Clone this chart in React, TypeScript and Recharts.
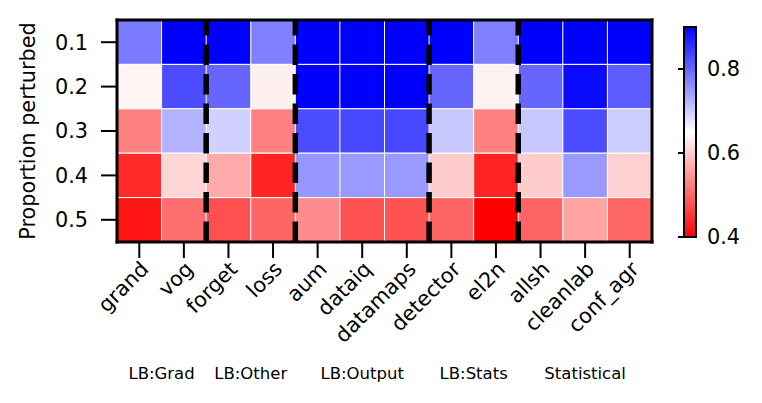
import { Bar, BarChart, Cell, ReferenceArea, ReferenceLine, XAxis, YAxis } from 'recharts';

const METHODS = ['grand', 'vog', 'forget', 'loss', 'aum', 'dataiq', 'datamaps', 'detector', 'el2n', 'allsh', 'cleanlab', 'conf_agr'];
const PROPORTIONS = ['0.1', '0.2', '0.3', '0.4', '0.5'];

// one array per proportion row, values per method
const P01 = [0.78, 0.9, 0.9, 0.775, 0.9, 0.9, 0.9, 0.9, 0.775, 0.9, 0.9, 0.9];
const P02 = [0.64, 0.826, 0.8, 0.635, 0.9, 0.9, 0.9, 0.8, 0.637, 0.8, 0.89, 0.81];
const P03 = [0.525, 0.725, 0.695, 0.525, 0.826, 0.83, 0.83, 0.705, 0.525, 0.705, 0.826, 0.7];
const P04 = [0.44, 0.61, 0.567, 0.435, 0.753, 0.75, 0.75, 0.6, 0.435, 0.6, 0.75, 0.605];
const P05 = [0.42, 0.508, 0.478, 0.498, 0.537, 0.48, 0.48, 0.498, 0.4, 0.498, 0.56, 0.5];
const ROWS = [P01, P02, P03, P04, P05];

const GROUPS = ['LB:Grad', 'LB:Other', 'LB:Output', 'LB:Stats', 'Statistical'];
const GROUP_SIZES = [2, 2, 3, 2, 3];

const CBAR_TICKS = [0.4, 0.6, 0.8];
const VMIN = 0.4;
const VMAX = 0.9;

const FONT = 'DejaVu Sans';
const FS = 20.8;

// group edges in column units, and label spots at their middles
const edges = GROUP_SIZES.reduce<number[]>((acc, n) => [...acc, acc[acc.length - 1] + n], [0]);
const breaks = edges.slice(1, -1);
const groupMid = GROUP_SIZES.map((_, i) => (edges[i] + edges[i + 1]) / 2);

const NX = METHODS.length;
const NY = PROPORTIONS.length;

// matplotlib bwr, reversed (low = red, high = blue)
function bwr(v: number): string {
  const t = Math.min(1, Math.max(0, (v - VMIN) / (VMAX - VMIN)));
  if (t >= 0.5) {
    const s = Math.round(255 * 2 * (1 - t));
    return `rgb(${s},${s},255)`;
  }
  const s = Math.round(255 * 2 * t);
  return `rgb(255,${s},${s})`;
}

const table = METHODS.map((name, i) => ({ name, pos: i + 0.5 }));

// the four spines of the heatmap, in data units
const frame = [
  [{ x: 0, y: NY }, { x: 0, y: 0 }],
  [{ x: NX, y: NY }, { x: NX, y: 0 }],
  [{ x: 0, y: 0 }, { x: NX, y: 0 }],
  [{ x: 0, y: NY }, { x: NX, y: NY }],
];

export default function App() {
  return (
    <div style={{ position: 'absolute', left: 0, top: 0, width: 762, height: 403, background: '#fff', fontFamily: FONT }}>
      <BarChart
        width={762}
        height={403}
        data={table}
        margin={{ top: 20, right: 110, left: 0, bottom: 16 }}
        barCategoryGap={0}
        barGap={0}
      >
        <XAxis
          dataKey="name"
          type="category"
          height={115}
          interval={0}
          angle={-45}
          textAnchor="end"
          tickSize={16}
          tickMargin={2}
          axisLine={false}
          tickLine={{ stroke: '#000', strokeWidth: 2 }}
          tick={{ fill: '#000', fontSize: FS, fontFamily: FONT }}
        />
        <XAxis
          xAxisId="g"
          dataKey="pos"
          type="number"
          domain={[0, NX]}
          allowDataOverflow
          ticks={groupMid}
          tickFormatter={(v: number) => GROUPS[groupMid.indexOf(v)] ?? ''}
          height={30}
          tickSize={0}
          tickMargin={10}
          axisLine={false}
          tickLine={false}
          tick={{ fill: '#000', fontSize: 16.5, fontFamily: FONT }}
        />
        <YAxis
          type="number"
          domain={[0, NY]}
          reversed
          allowDataOverflow
          ticks={[0.5, 1.5, 2.5, 3.5, 4.5]}
          tickFormatter={(v: number) => PROPORTIONS[Math.floor(v)]}
          width={117}
          tickSize={16}
          tickMargin={13}
          axisLine={false}
          tickLine={{ stroke: '#000', strokeWidth: 2 }}
          tick={{ fill: '#000', fontSize: FS, fontFamily: FONT }}
          label={{
            value: 'Proportion perturbed',
            angle: -90,
            position: 'insideLeft',
            offset: 28,
            style: { textAnchor: 'middle', fill: '#000', fontSize: FS, fontFamily: FONT },
          }}
        />
        {ROWS.map((row, r) => (
          <Bar
            key={PROPORTIONS[r]}
            dataKey={() => 1}
            stackId="h"
            stroke="#fff"
            strokeWidth={1}
            isAnimationActive={false}
          >
            {row.map((v, i) => (
              <Cell key={METHODS[i]} fill={bwr(v)} />
            ))}
          </Bar>
        ))}
        {breaks.map((b) => (
          <ReferenceLine
            key={b}
            xAxisId="g"
            segment={[
              { x: b, y: NY },
              { x: b, y: 0 },
            ]}
            stroke="#000"
            strokeWidth={5.5}
            strokeDasharray="20.6 8.9"
          />
        ))}
        {frame.map((seg, i) => (
          <ReferenceLine
            key={`spine-${i}`}
            xAxisId="g"
            segment={seg}
            stroke="#000"
            strokeWidth={3}
            strokeLinecap="square"
            ifOverflow="visible"
          />
        ))}
      </BarChart>

      <div style={{ position: 'absolute', left: 660, top: 0 }}>
        <BarChart width={100} height={403} data={[{ k: 0 }]} margin={{ top: 27, right: 0, left: 0, bottom: 166 }}>
          <defs>
            <linearGradient id="cbar" x1="0" y1="0" x2="0" y2="1">
              <stop offset="0" stopColor="#0000ff" />
              <stop offset="0.5" stopColor="#ffffff" />
              <stop offset="1" stopColor="#ff0000" />
            </linearGradient>
          </defs>
          <XAxis dataKey="k" hide />
          <YAxis
            yAxisId="l"
            type="number"
            domain={[VMIN, VMAX]}
            allowDataOverflow
            ticks={CBAR_TICKS}
            tickFormatter={() => ''}
            width={24}
            tickSize={6}
            axisLine={false}
            tickLine={{ stroke: '#000', strokeWidth: 2 }}
          />
          <YAxis
            yAxisId="r"
            orientation="right"
            type="number"
            domain={[VMIN, VMAX]}
            allowDataOverflow
            ticks={CBAR_TICKS}
            width={64}
            tickSize={6}
            tickMargin={5}
            axisLine={false}
            tickLine={false}
            tick={{ fill: '#000', fontSize: FS, fontFamily: FONT }}
          />
          <ReferenceArea
            yAxisId="l"
            y1={VMIN}
            y2={VMAX}
            fill="url(#cbar)"
            fillOpacity={1}
            stroke="#000"
            strokeWidth={2}
            ifOverflow="visible"
          />
        </BarChart>
      </div>
    </div>
  );
}
